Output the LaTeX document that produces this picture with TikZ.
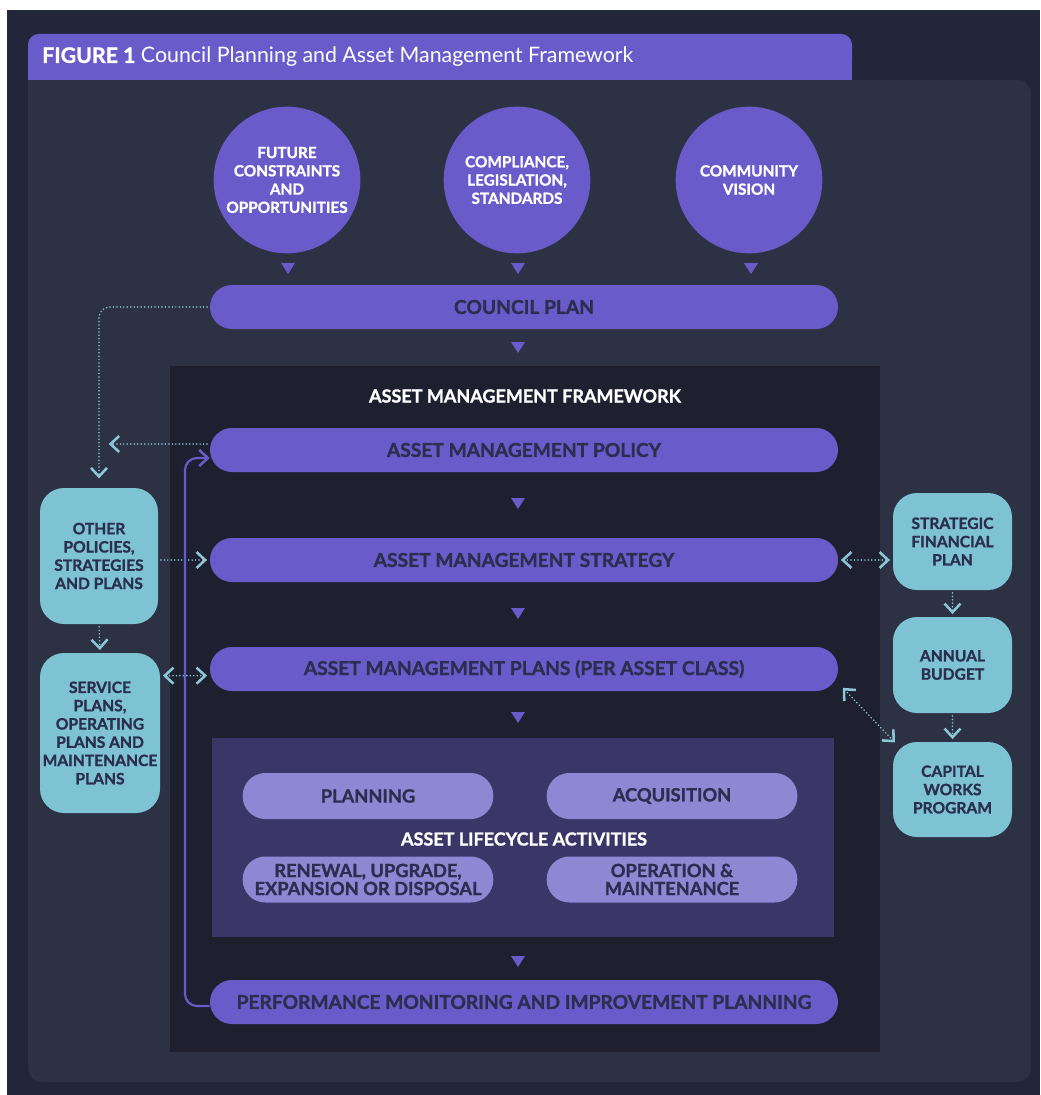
\documentclass[tikz,border=0pt]{standalone}
\usepackage{fontspec}
\setmainfont{Lato}[BoldFeatures={FakeBold=1.2}]
\usetikzlibrary{arrows.meta,calc}
\definecolor{outerbg}{HTML}{23263A}
\definecolor{panelbg}{HTML}{2D3144}
\definecolor{innerbg}{HTML}{1E2030}
\definecolor{lifebg}{HTML}{3A3768}
\definecolor{purp}{HTML}{6A5BCB}
\definecolor{lav}{HTML}{8E87D4}
\definecolor{tealbox}{HTML}{7DC3D3}
\definecolor{navytext}{HTML}{2B2E4E}
\definecolor{dotc}{HTML}{8CC7D6}
\tikzset{
  chev/.tip={Straight Barb[length=6.5pt,width=12pt,line width=1.9pt]},
  pill/.style={fill=purp, rounded corners=16.5pt, minimum width=471pt, minimum height=33pt,
    text=navytext, font=\bfseries\fontsize{14.4}{15}\selectfont, inner sep=0pt},
  lifepill/.style={fill=lav, rounded corners=17pt, minimum width=188pt, minimum height=34.5pt,
    text=navytext, font=\bfseries\fontsize{13.7}{13.5}\selectfont, inner sep=0pt, align=center},
  bubble/.style={circle, fill=purp, minimum size=110pt, inner sep=0pt, text=white,
    font=\bfseries\fontsize{11.5}{13.7}\selectfont, align=center},
  sidebox/.style={fill=tealbox, rounded corners=18pt, inner sep=0pt, text=navytext,
    font=\bfseries\fontsize{11.7}{13.7}\selectfont, align=center},
  heading/.style={text=white, font=\bfseries\fontsize{13.5}{14}\selectfont, inner sep=0pt},
  dotline/.style={draw=dotc, line width=1.3pt, dash pattern=on 0pt off 2.6pt, line cap=round, shorten >=2pt, shorten <=2pt},
  fbline/.style={draw=purp, line width=1.6pt, rounded corners=9pt},
  tri/.pic={\fill[purp] (-7,-5) -- (7,-5) -- (0,6) -- cycle;}
}
\begin{document}
\begin{tikzpicture}[x=0.75pt,y=-0.75pt]
\useasboundingbox (0,0) rectangle (1040,1095);
% backgrounds
\fill[white] (0,0) rectangle (1040,1095);
\fill[outerbg] (7,10) rectangle (1040,1095);
\fill[panelbg, rounded corners=11pt] (28,80) rectangle (1031,1082);
\fill[panelbg] (28,80) rectangle (60,110);
\fill[purp, rounded corners=8pt] (28,34) rectangle (852,70);
\fill[purp] (28,55) rectangle (852,80);
\node[anchor=west, text=white, font=\fontsize{16}{17}\selectfont, inner sep=0pt] (title) at (42,57)
  {\textbf{FIGURE 1} Council Planning and Asset Management Framework};
\fill[innerbg] (170,366) rectangle (880,1052);

% circles
\node[bubble] (fut) at (287,180) {FUTURE\\CONSTRAINTS\\AND\\OPPORTUNITIES};
\node[bubble] (comp) at (517,180) {COMPLIANCE,\\LEGISLATION,\\STANDARDS};
\node[bubble] (comm) at (749,180) {COMMUNITY\\VISION};
\pic at (288,268) {tri};
\pic at (518,268) {tri};
\pic at (751,268) {tri};

% main column
\node[pill] (council) at (524,307) {COUNCIL PLAN};
\pic at (518,347) {tri};
\node[heading] (amf) at (525,396) {ASSET MANAGEMENT FRAMEWORK};
\node[pill] (policy) at (524,450) {ASSET MANAGEMENT POLICY};
\pic at (518,503) {tri};
\node[pill] (strategy) at (524,560) {ASSET MANAGEMENT STRATEGY};
\pic at (518,613) {tri};
\node[pill] (plans) at (524,669) {ASSET MANAGEMENT PLANS (PER ASSET CLASS)};
\pic at (518,717) {tri};
\node[fill=lifebg, minimum width=466.5pt, minimum height=149.25pt, inner sep=0pt] (life) at (523,837.5) {};
\node[lifepill] (planning) at (368,796) {PLANNING};
\node[lifepill] (acq) at (672,796) {ACQUISITION};
\node[heading] (alc) at (524,839) {ASSET LIFECYCLE ACTIVITIES};
\node[lifepill] (renew) at (368,879.5) {RENEWAL, UPGRADE,\\EXPANSION OR DISPOSAL};
\node[lifepill] (opm) at (672,879.5) {OPERATION \&\\MAINTENANCE};
\pic at (518,961) {tri};
\node[pill] (perf) at (524,1002) {PERFORMANCE MONITORING AND IMPROVEMENT PLANNING};

% left column
\node[sidebox, minimum width=88.5pt, minimum height=102pt] (other) at (99,556) {OTHER\\POLICIES,\\STRATEGIES\\AND PLANS};
\node[sidebox, minimum width=90pt, minimum height=120pt] (service) at (100,733) {SERVICE\\PLANS,\\OPERATING\\PLANS AND\\MAINTENANCE\\PLANS};

% right column
\node[sidebox, minimum width=89.25pt, minimum height=72.75pt] (sfp) at (952.5,541.5) {STRATEGIC\\FINANCIAL\\PLAN};
\node[sidebox, minimum width=89.25pt, minimum height=72pt] (budget) at (952.5,665) {ANNUAL\\BUDGET};
\node[sidebox, minimum width=89.25pt, minimum height=71.25pt] (cwp) at (952.5,789.5) {CAPITAL\\WORKS\\PROGRAM};

% connectors
\coordinate (polend) at (106,444);
\draw[dotline, rounded corners=8pt, -{chev}] (council.west) -| ([yshift=5pt]other.north);
\draw[dotline, -{chev}] (policy.west |- polend) -- (polend);
\draw[dotline, -{chev}] (other.east |- strategy.west) -- (strategy.west);
\draw[dotline, -{chev}] (other.south) -- (service.north);
\draw[dotline, {chev}-{chev}] ([yshift=-5pt]service.east |- plans.west) -- ([yshift=-5pt]plans.west);
\draw[dotline, {chev}-{chev}] (strategy.east) -- (sfp.west |- strategy.east);
\draw[dotline, -{chev}] (sfp.south) -- (budget.north);
\draw[dotline, -{chev}] (budget.south) -- (cwp.north);
\draw[dotline, {chev}-{chev}] ([shift={(2pt,4pt)}]plans.south east) -- ([shift={(3pt,-2pt)}]cwp.north west);
\coordinate (fbx) at (185,0);
\draw[fbline, -{chev}] ([yshift=-3pt]perf.west) -- ([yshift=-3pt]perf.west -| fbx) -- ([yshift=-6pt]policy.west -| fbx) -- ([yshift=-6pt]policy.west);
\end{tikzpicture}
\end{document}
